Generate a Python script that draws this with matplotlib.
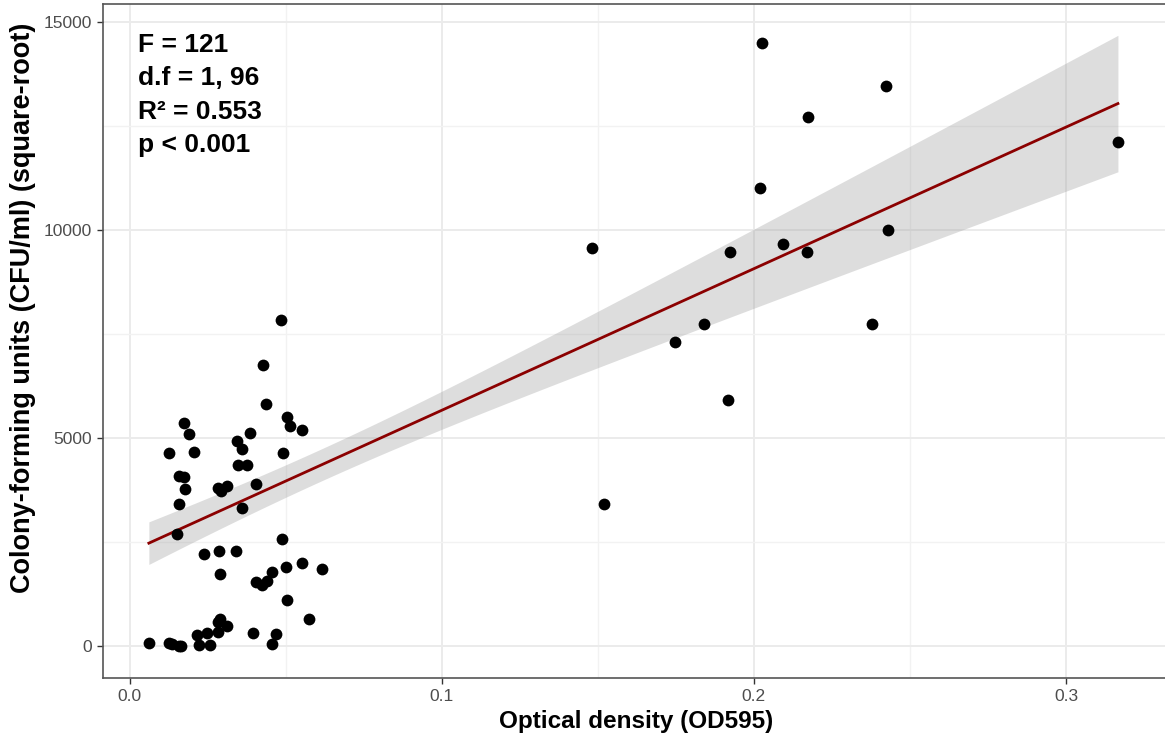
import numpy as np
import matplotlib
matplotlib.use("Agg")
import matplotlib.pyplot as plt
from matplotlib.ticker import MultipleLocator

# Optical density (OD595) of each sample
od595 = [
    0.0485, 0.0429, 0.0437, 0.0504, 0.0515, 0.0551, 0.0176, 0.0191, 0.0387, 0.0343,
    0.0359, 0.0125, 0.0206, 0.0491, 0.0347, 0.0375, 0.0160, 0.0173, 0.0177, 0.0158,
    0.0285, 0.0293, 0.0312, 0.0404, 0.0359, 0.0151, 0.0488, 0.0239, 0.0286, 0.0342,
    0.0291, 0.0501, 0.0554, 0.0616, 0.0457, 0.0404, 0.0425, 0.0441, 0.0504, 0.0575,
    0.0291, 0.0284, 0.0312, 0.0284, 0.0217, 0.0248, 0.0395, 0.0468, 0.0062, 0.0128,
    0.0137, 0.0160, 0.0166, 0.0224, 0.0257, 0.0455,
    0.1480, 0.1520, 0.1746, 0.1840, 0.1923, 0.1917, 0.2020, 0.2026, 0.2093, 0.2170,
    0.2173, 0.2379, 0.2423, 0.2430, 0.3166,
]

# Square-root colony-forming units (CFU/ml) of each sample
sqrt_cfu = [
    7837, 6748, 5810, 5498, 5296, 5200, 5368, 5089, 5127, 4935,
    4736, 4639, 4671, 4647, 4351, 4358, 4094, 4055, 3774, 3406,
    3791, 3733, 3846, 3887, 3325, 2685, 2565, 2219, 2291, 2291,
    1724, 1906, 1995, 1851, 1786, 1531, 1466, 1570, 1106, 649,
    642, 577, 488, 337, 272, 312, 320, 288, 72, 65,
    55, 7, 0, 24, 17, 48,
    9575, 3413, 7308, 7748, 9479, 5913, 11018, 14487, 9655, 9479,
    12708, 7748, 13470, 9992, 12107,
]

# Linear model (all 98 samples): intercept and slope
fit_intercept = 2260.0
fit_slope = 34040.0
# Half-width of the 95% confidence band at three OD values
ci_od = [0.0066, 0.1000, 0.3166]
ci_half = [510.0, 457.0, 1640.0]

stats_lines = ["F = 121", "d.f = 1, 96", "R\u00b2 = 0.553", "p < 0.001"]

x_ticks = [0.0, 0.1, 0.2, 0.3]
x_tick_labels = ["0.0", "0.1", "0.2", "0.3"]
y_ticks = [0, 5000, 10000, 15000]
y_tick_labels = ["0", "5000", "10000", "15000"]

x = np.asarray(od595)
y = np.asarray(sqrt_cfu, dtype=float)

# Band half-width follows sqrt(a + b*x + c*x^2), as for an OLS mean prediction
A = np.array([[1.0, v, v * v] for v in ci_od])
coef = np.linalg.solve(A, np.asarray(ci_half) ** 2)
xs = np.linspace(x.min(), x.max(), 300)
fit = fit_intercept + fit_slope * xs
half = np.sqrt(coef[0] + coef[1] * xs + coef[2] * xs ** 2)

plt.rcParams["font.family"] = ["Liberation Sans", "DejaVu Sans"]

W, H = 1165, 735
fig = plt.figure(figsize=(W / 100, H / 100), dpi=100)
left_px, right_px, top_px, bottom_px = 103, 1170, 4, 678
ax = fig.add_axes([left_px / W, 1 - bottom_px / H,
                   (right_px - left_px) / W, (bottom_px - top_px) / H])

# data limits so that OD 0 sits at 129.5 px and 0.1 spans 312.2 px
px_per_od = 3122.0
ax.set_xlim((left_px - 129.5) / px_per_od, (right_px - 129.5) / px_per_od)
ax.set_ylim(-770, 15430)

ax.xaxis.set_minor_locator(MultipleLocator(0.05))
ax.yaxis.set_minor_locator(MultipleLocator(2500))
ax.set_xticks(x_ticks, x_tick_labels)
ax.set_yticks(y_ticks, y_tick_labels)

ax.grid(which="major", color="#EBEBEB", linewidth=1.4)
ax.grid(which="minor", color="#F2F2F2", linewidth=1.0)
ax.set_axisbelow(True)
ax.tick_params(which="minor", length=0)
ax.tick_params(which="major", length=4, width=1, color="#333333",
               labelcolor="#4D4D4D", labelsize=12.5, pad=4)

for sp in ax.spines.values():
    sp.set_color("#555555")
    sp.set_linewidth(1.2)

ax.fill_between(xs, fit - half, fit + half, color="#999999", alpha=0.33,
                linewidth=0, zorder=2)
ax.plot(xs, fit, color="#8B0000", linewidth=2.0, zorder=3)
ax.scatter(x, y, s=72, color="black", linewidths=0, zorder=4)

ax.set_xlabel("Optical density (OD595)", fontsize=17.5, fontweight="bold", labelpad=4)
ax.set_ylabel("Colony-forming units (CFU/ml) (square-root)", fontsize=19.5,
              fontweight="bold", va="center")
ax.yaxis.set_label_coords((23 - left_px) / (right_px - left_px),
                          (bottom_px - 308) / (bottom_px - top_px))

for i, line in enumerate(stats_lines):
    fig.text(138 / W, 1 - (45 + 33.3 * i) / H, line, fontsize=19,
             fontweight="bold", ha="left", va="center", color="black")

fig.savefig("out.png", dpi=100)
